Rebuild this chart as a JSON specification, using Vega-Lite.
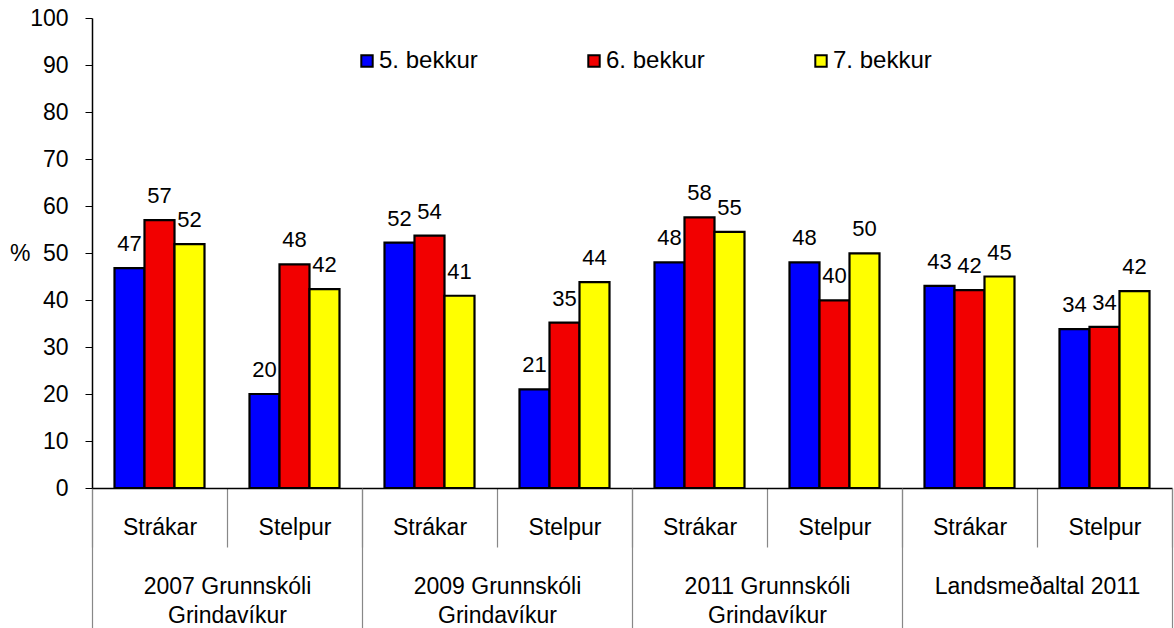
{
  "$schema": "https://vega.github.io/schema/vega-lite/v6.json",
  "width": 1080,
  "height": 470,
  "autosize": "none",
  "padding": {"left": 92, "top": 18, "right": 2, "bottom": 140},
  "background": "white",
  "config": {
    "view": {"stroke": null},
    "font": "Liberation Sans"
  },
  "data": {
    "values": [
      {"g": "2007 Grunnskóli|Grindavíkur", "c": "2007|Strákar", "bekkur": "5. bekkur", "value": 46.8},
      {"g": "2007 Grunnskóli|Grindavíkur", "c": "2007|Strákar", "bekkur": "6. bekkur", "value": 57.0},
      {"g": "2007 Grunnskóli|Grindavíkur", "c": "2007|Strákar", "bekkur": "7. bekkur", "value": 51.9},
      {"g": "2007 Grunnskóli|Grindavíkur", "c": "2007|Stelpur", "bekkur": "5. bekkur", "value": 20.0},
      {"g": "2007 Grunnskóli|Grindavíkur", "c": "2007|Stelpur", "bekkur": "6. bekkur", "value": 47.6},
      {"g": "2007 Grunnskóli|Grindavíkur", "c": "2007|Stelpur", "bekkur": "7. bekkur", "value": 42.3},
      {"g": "2009 Grunnskóli|Grindavíkur", "c": "2009|Strákar", "bekkur": "5. bekkur", "value": 52.2},
      {"g": "2009 Grunnskóli|Grindavíkur", "c": "2009|Strákar", "bekkur": "6. bekkur", "value": 53.7},
      {"g": "2009 Grunnskóli|Grindavíkur", "c": "2009|Strákar", "bekkur": "7. bekkur", "value": 40.9},
      {"g": "2009 Grunnskóli|Grindavíkur", "c": "2009|Stelpur", "bekkur": "5. bekkur", "value": 21.0},
      {"g": "2009 Grunnskóli|Grindavíkur", "c": "2009|Stelpur", "bekkur": "6. bekkur", "value": 35.2},
      {"g": "2009 Grunnskóli|Grindavíkur", "c": "2009|Stelpur", "bekkur": "7. bekkur", "value": 43.8},
      {"g": "2011 Grunnskóli|Grindavíkur", "c": "2011|Strákar", "bekkur": "5. bekkur", "value": 48.0},
      {"g": "2011 Grunnskóli|Grindavíkur", "c": "2011|Strákar", "bekkur": "6. bekkur", "value": 57.6},
      {"g": "2011 Grunnskóli|Grindavíkur", "c": "2011|Strákar", "bekkur": "7. bekkur", "value": 54.5},
      {"g": "2011 Grunnskóli|Grindavíkur", "c": "2011|Stelpur", "bekkur": "5. bekkur", "value": 48.0},
      {"g": "2011 Grunnskóli|Grindavíkur", "c": "2011|Stelpur", "bekkur": "6. bekkur", "value": 39.9},
      {"g": "2011 Grunnskóli|Grindavíkur", "c": "2011|Stelpur", "bekkur": "7. bekkur", "value": 49.9},
      {"g": "Landsmeðaltal 2011", "c": "L|Strákar", "bekkur": "5. bekkur", "value": 43.0},
      {"g": "Landsmeðaltal 2011", "c": "L|Strákar", "bekkur": "6. bekkur", "value": 42.1},
      {"g": "Landsmeðaltal 2011", "c": "L|Strákar", "bekkur": "7. bekkur", "value": 45.0},
      {"g": "Landsmeðaltal 2011", "c": "L|Stelpur", "bekkur": "5. bekkur", "value": 33.8},
      {"g": "Landsmeðaltal 2011", "c": "L|Stelpur", "bekkur": "6. bekkur", "value": 34.3},
      {"g": "Landsmeðaltal 2011", "c": "L|Stelpur", "bekkur": "7. bekkur", "value": 41.9}
    ]
  },
  "encoding": {
    "y": {
      "field": "value",
      "type": "quantitative",
      "scale": {"domain": [0, 100], "nice": false, "zero": true},
      "axis": {
        "values": [0, 10, 20, 30, 40, 50, 60, 70, 80, 90, 100],
        "grid": false,
        "title": "%",
        "titleAngle": 0,
        "titleAlign": "right",
        "titleBaseline": "middle",
        "titleX": -62,
        "titleY": 235,
        "titleFontSize": 23,
        "titleFontWeight": "normal",
        "titleColor": "black",
        "labelFontSize": 23,
        "labelColor": "black",
        "labelPadding": 17,
        "tickSize": 7,
        "tickColor": "black",
        "domainColor": "black",
        "domainWidth": 1.5
      }
    }
  },
  "layer": [
    {
      "encoding": {
        "x": {
          "field": "c",
          "type": "nominal",
          "sort": null,
          "scale": {"paddingInner": 0, "paddingOuter": 0},
          "axis": {
            "orient": "bottom",
            "title": null,
            "labelExpr": "split(datum.label, '|')[1]",
            "labelAngle": 0,
            "tickBand": "extent",
            "tickSize": 59,
            "tickColor": "#888888",
            "tickWidth": 1.2,
            "domainColor": "black",
            "domainWidth": 1.5,
            "labelFontSize": 23,
            "labelColor": "black",
            "labelBaseline": "middle",
            "labelPadding": -20
          }
        },
        "xOffset": {
          "field": "bekkur",
          "type": "nominal",
          "scale": {"paddingInner": 0, "paddingOuter": 0.75}
        }
      },
      "layer": [
        {
          "mark": {"type": "bar", "stroke": "black", "strokeWidth": 2.2},
          "encoding": {
            "color": {
              "field": "bekkur",
              "type": "nominal",
              "scale": {
                "domain": ["5. bekkur", "6. bekkur", "7. bekkur"],
                "range": ["#0000FF", "#F20000", "#FFFF00"]
              },
              "legend": {
                "title": null,
                "orient": "none",
                "legendX": 263,
                "legendY": 31,
                "direction": "horizontal",
                "columns": 3,
                "columnPadding": 104,
                "symbolType": "square",
                "symbolSize": 130,
                "symbolStrokeColor": "black",
                "symbolStrokeWidth": 2,
                "labelFontSize": 24,
                "labelColor": "black",
                "labelOffset": 0
              }
            }
          }
        },
        {
          "mark": {"type": "text", "baseline": "alphabetic", "dy": -17, "fontSize": 22, "color": "black"},
          "encoding": {
            "text": {"field": "value", "type": "quantitative", "format": ".0f"}
          }
        }
      ]
    },
    {
      "mark": {"type": "rule", "opacity": 0},
      "encoding": {
        "x": {
          "field": "g",
          "type": "nominal",
          "sort": null,
          "scale": {"paddingInner": 0, "paddingOuter": 0},
          "axis": {
            "orient": "bottom",
            "title": null,
            "domain": false,
            "labelExpr": "split(datum.label, '|')",
            "labelAngle": 0,
            "labelLimit": 400,
            "tickBand": "extent",
            "tickSize": 140,
            "tickColor": "#888888",
            "tickWidth": 1.2,
            "labelFontSize": 23,
            "labelColor": "black",
            "labelBaseline": "top",
            "labelLineHeight": 29,
            "labelPadding": -53
          }
        }
      }
    }
  ],
  "resolve": {"scale": {"x": "independent"}, "axis": {"x": "independent"}}
}
